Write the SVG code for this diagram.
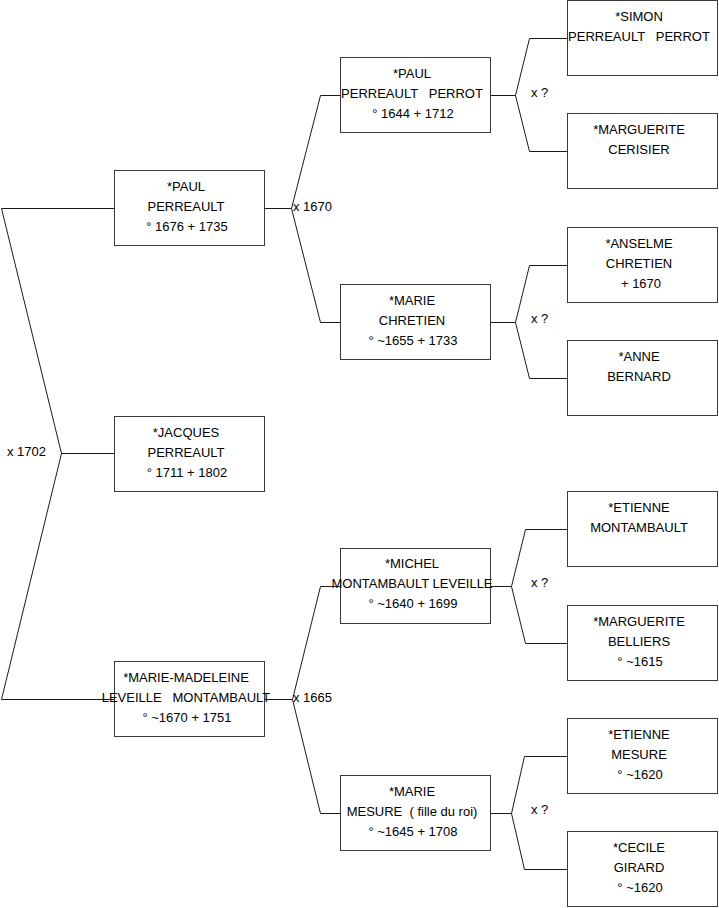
<svg xmlns="http://www.w3.org/2000/svg" width="719" height="908" viewBox="0 0 719 908">
<style>
.box{fill:#fff;stroke:#3a3a3a;stroke-width:1}
.t{font-family:"Liberation Sans",Arial,sans-serif;font-size:13px;fill:#000;text-anchor:middle;white-space:pre}
.l{font-family:"Liberation Sans",Arial,sans-serif;font-size:13px;fill:#000;white-space:pre}
.c{fill:none;stroke:#1a1a1a;stroke-width:1}
</style>
<rect width="719" height="908" fill="#fff"/>
<g id="connectors">
<path class="c" d="M114,208.5 H1.5 L61.5,453.5 L1.5,699.5 H114 M61.5,453.5 H114"/>
<path class="c" d="M265,208.5 H291.5 M320.5,95.5 L291.5,208.5 L320.5,322.5 M320.5,95.5 H340 M320.5,322.5 H340"/>
<path class="c" d="M265,699.5 H292.5 M320.5,586.5 L292.5,699.5 L320.5,813.5 M320.5,586.5 H340 M320.5,813.5 H340"/>
<path class="c" d="M491,95.5 H515.5 M529.5,38.5 L515.5,95.5 L529.5,151.5 M529.5,38.5 H567 M529.5,151.5 H567"/>
<path class="c" d="M491,322.5 H515.5 M529.5,265.5 L515.5,322.5 L529.5,378.5 M529.5,265.5 H567 M529.5,378.5 H567"/>
<path class="c" d="M491,586.5 H511.5 M525.5,529.5 L511.5,586.5 L525.5,643.5 M525.5,529.5 H567 M525.5,643.5 H567"/>
<path class="c" d="M491,813.5 H511.5 M524.5,756.5 L511.5,813.5 L524.5,869.5 M524.5,756.5 H567 M524.5,869.5 H567"/>
<text class="l" x="7" y="456">x 1702</text>
<text class="l" x="293" y="211">x 1670</text>
<text class="l" x="293" y="701.5">x 1665</text>
<text class="l" x="531" y="96.5">x ?</text>
<text class="l" x="531" y="323">x ?</text>
<text class="l" x="531" y="587">x ?</text>
<text class="l" x="531" y="814">x ?</text>
</g>
<g id="paul-perreault">
<rect class="box" x="114.5" y="170.5" width="150" height="75"/>
<text class="t" x="186" y="190.5">*PAUL</text>
<text class="t" x="186" y="210.5">PERREAULT</text>
<text class="t" x="187" y="230.5">° 1676 + 1735</text>
</g>
<g id="jacques-perreault">
<rect class="box" x="114.5" y="416.5" width="150" height="75"/>
<text class="t" x="186" y="436.5">*JACQUES</text>
<text class="t" x="186" y="456.5">PERREAULT</text>
<text class="t" x="187" y="476.5">° 1711 + 1802</text>
</g>
<g id="marie-madeleine">
<rect class="box" x="114.5" y="661.5" width="150" height="75"/>
<text class="t" x="186" y="681.5">*MARIE-MADELEINE</text>
<text class="t" x="186" y="701.5">LEVEILLE   MONTAMBAULT</text>
<text class="t" x="187" y="721.5">° ~1670 + 1751</text>
</g>
<g id="paul-perreault-perrot">
<rect class="box" x="340.5" y="57.5" width="150" height="75"/>
<text class="t" x="412" y="77.5">*PAUL</text>
<text class="t" x="412" y="97.5">PERREAULT   PERROT</text>
<text class="t" x="413" y="117.5">° 1644 + 1712</text>
</g>
<g id="marie-chretien">
<rect class="box" x="340.5" y="284.5" width="150" height="75"/>
<text class="t" x="412" y="304.5">*MARIE</text>
<text class="t" x="412" y="324.5">CHRETIEN</text>
<text class="t" x="413" y="344.5">° ~1655 + 1733</text>
</g>
<g id="michel-montambault">
<rect class="box" x="340.5" y="548.5" width="150" height="75"/>
<text class="t" x="412" y="568">*MICHEL</text>
<text class="t" x="412" y="588">MONTAMBAULT LEVEILLE</text>
<text class="t" x="413" y="608">° ~1640 + 1699</text>
</g>
<g id="marie-mesure">
<rect class="box" x="340.5" y="775.5" width="150" height="75"/>
<text class="t" x="412" y="795.5">*MARIE</text>
<text class="t" x="412" y="815.5">MESURE  ( fille du roi)</text>
<text class="t" x="413" y="835.5">° ~1645 + 1708</text>
</g>
<g id="simon-perreault">
<rect class="box" x="567.5" y="0.5" width="150" height="75"/>
<text class="t" x="639" y="20.5">*SIMON</text>
<text class="t" x="639" y="40.5">PERREAULT   PERROT</text>
</g>
<g id="marguerite-cerisier">
<rect class="box" x="567.5" y="113.5" width="150" height="75"/>
<text class="t" x="639" y="133.5">*MARGUERITE</text>
<text class="t" x="639" y="153.5">CERISIER</text>
</g>
<g id="anselme-chretien">
<rect class="box" x="567.5" y="227.5" width="150" height="75"/>
<text class="t" x="639" y="247.5">*ANSELME</text>
<text class="t" x="639" y="267.5">CHRETIEN</text>
<text class="t" x="641" y="287.5">+ 1670</text>
</g>
<g id="anne-bernard">
<rect class="box" x="567.5" y="340.5" width="150" height="75"/>
<text class="t" x="639" y="360.5">*ANNE</text>
<text class="t" x="639" y="380.5">BERNARD</text>
</g>
<g id="etienne-montambault">
<rect class="box" x="567.5" y="491.5" width="150" height="75"/>
<text class="t" x="639" y="511.5">*ETIENNE</text>
<text class="t" x="639" y="531.5">MONTAMBAULT</text>
</g>
<g id="marguerite-belliers">
<rect class="box" x="567.5" y="605.5" width="150" height="75"/>
<text class="t" x="639" y="625.5">*MARGUERITE</text>
<text class="t" x="639" y="645.5">BELLIERS</text>
<text class="t" x="640" y="665.5">° ~1615</text>
</g>
<g id="etienne-mesure">
<rect class="box" x="567.5" y="718.5" width="150" height="75"/>
<text class="t" x="639" y="738.5">*ETIENNE</text>
<text class="t" x="639" y="758.5">MESURE</text>
<text class="t" x="640" y="778.5">° ~1620</text>
</g>
<g id="cecile-girard">
<rect class="box" x="567.5" y="831.5" width="150" height="75"/>
<text class="t" x="639" y="851.5">*CECILE</text>
<text class="t" x="639" y="871.5">GIRARD</text>
<text class="t" x="640" y="891.5">° ~1620</text>
</g>
</svg>
